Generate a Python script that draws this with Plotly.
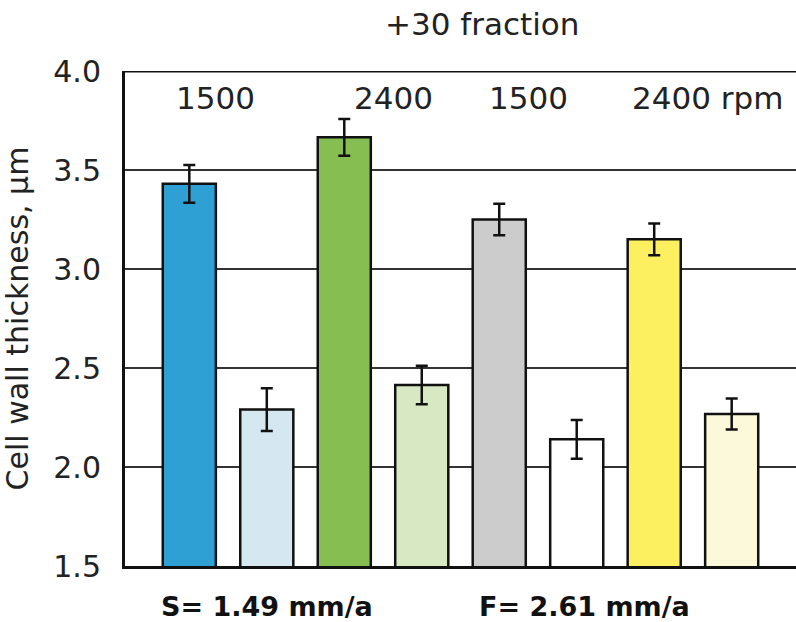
import plotly.graph_objects as go

# Mean cell wall thickness (µm) and standard errors, +30 fraction
groups = ["S 1500 a", "S 1500 b", "S 2400 a", "S 2400 b",
          "F 1500 a", "F 1500 b", "F 2400 a", "F 2400 b"]
thickness = [3.43, 2.29, 3.665, 2.414, 3.25, 2.14, 3.15, 2.268]
errors = [0.095, 0.108, 0.093, 0.097, 0.08, 0.098, 0.08, 0.078]
colors = ["#2EA0D3", "#D5E8F2", "#86BE52", "#D7E8C3",
          "#CCCCCC", "#FFFFFF", "#FDF060", "#FCF9DA"]

speed_labels = ["1500", "2400", "1500", "2400 rpm"]
speed_x = [0.34, 2.63, 4.38, 5.69]
speed_anchor = ["center", "center", "center", "left"]
rate_labels = ["S= 1.49 mm/a", "F= 2.61 mm/a"]
rate_x = [1.0, 5.1]

y_ticks = [1.5, 2.0, 2.5, 3.0, 3.5, 4.0]
FONT = "DejaVu Sans"

fig = go.Figure()
fig.add_trace(go.Bar(
    x=list(range(len(groups))),
    y=thickness,
    width=0.685,
    marker=dict(color=colors, line=dict(color="#111111", width=2.5)),
    error_y=dict(type="data", array=errors, visible=True,
                 color="#111111", thickness=2.5, width=6),
    hoverinfo="y",
))

for txt, xv, anc in zip(speed_labels, speed_x, speed_anchor):
    fig.add_annotation(x=xv, y=3.865, xref="x", yref="y", text=txt,
                       showarrow=False, xanchor=anc, yanchor="middle",
                       font=dict(family=FONT, size=31, color="#222222"))

for txt, xv in zip(rate_labels, rate_x):
    fig.add_annotation(x=xv, y=-0.081, xref="x", yref="paper", text=f"<b>{txt}</b>",
                       showarrow=False, xanchor="center", yanchor="middle",
                       height=26, borderpad=0,
                       font=dict(family=FONT, size=27, color="#111111"))

fig.add_annotation(x=0.532, y=1.095, xref="paper", yref="paper", text="+30 fraction",
                   showarrow=False, xanchor="center", yanchor="middle",
                   font=dict(family=FONT, size=31, color="#222222"))

# heavy frame line along the top of the plotting area
fig.add_shape(type="line", xref="paper", yref="y", x0=0, x1=1, y0=4.0, y1=4.0,
              line=dict(color="#111111", width=3))

fig.update_layout(
    width=796, height=622,
    margin=dict(l=125, r=0, t=71, b=56),
    paper_bgcolor="white", plot_bgcolor="white",
    showlegend=False,
    bargap=0.3,
    font=dict(family=FONT, color="#222222"),
    xaxis=dict(range=[-0.83, 7.83], showticklabels=False, showgrid=False,
               zeroline=False, showline=True, linecolor="#111111", linewidth=3,
               ticks=""),
    yaxis=dict(range=[1.5, 4.0], tickvals=y_ticks, ticktext=[f"{v:.1f}" for v in y_ticks],
               showgrid=True, gridcolor="#333333", gridwidth=1.5,
               zeroline=False, showline=True, linecolor="#111111", linewidth=3,
               ticks="", ticklabelstandoff=15,
               tickfont=dict(family=FONT, size=30, color="#222222"),
               title=dict(text="Cell wall thickness, µm", standoff=16,
                          font=dict(family=FONT, size=30, color="#222222"))),
)

fig.write_html("out.html")
